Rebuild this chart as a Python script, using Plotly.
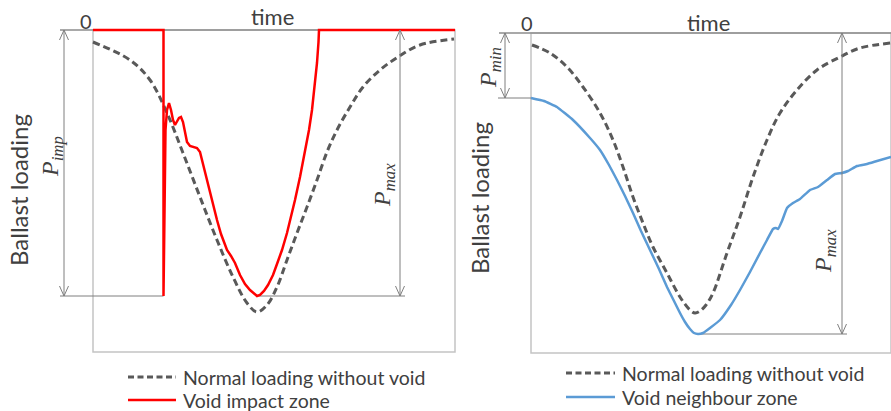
import plotly.graph_objects as go

# ---------------- data (arbitrary units) ----------------
# left panel: time axis 0..362, loading axis 0 (top) .. 322 (bottom)
left_dash_t = [0, 37, 57, 74, 90, 107, 124, 140, 154, 164, 174, 184, 194, 204, 214, 224, 234, 244, 257, 270, 287, 305, 327, 361]
left_dash_L = [12, 30, 50, 83, 123, 167, 210, 247, 273, 282, 275, 257, 230, 203, 177, 150, 122, 100, 77, 57, 40, 27, 15, 9]

left_red_t = [0, 70.5, 70.5, 72.5, 74, 76, 78, 80, 82, 84, 86, 88, 90, 92, 94, 97, 100, 104, 107, 109,
              111, 114, 117, 120, 124, 128, 131, 134, 138, 142, 147, 152, 157, 161, 164, 167, 171, 175, 180, 184,
              189, 194, 198, 202, 207, 212, 216, 219, 222, 224, 225.5, 226, 362]
left_red_L = [0, 0, 266, 100, 80, 73, 80, 90, 95, 91, 88, 87, 92, 102, 112, 116, 117, 118, 122, 130,
              140, 153, 164, 176, 190, 204, 212, 220, 226, 233, 245, 254, 260, 264, 266, 265, 261, 255, 245, 234,
              220, 203, 187, 170, 147, 122, 100, 80, 55, 33, 12, 0, 0]

# right panel: time axis 0..360, loading axis 0 (top) .. 320 (bottom)
right_dash_t = [1, 19, 36, 52, 69, 82, 92, 102, 112, 122, 136, 149, 159, 164, 169, 175, 182, 196, 209, 222, 236, 249, 266, 286, 309, 329, 360]
right_dash_L = [12, 20, 34, 54, 80, 107, 134, 164, 190, 214, 240, 264, 277, 280, 278, 272, 260, 220, 184, 144, 107, 80, 57, 37, 24, 15, 10]

right_blue_t = [0, 13, 26, 42, 59, 69, 78, 86, 94, 102, 110, 119, 128, 136, 143, 149, 154, 159, 163, 167,
                172, 179, 189, 200, 209, 219, 229, 236, 242, 245, 247, 251, 256, 262, 269, 279, 287, 296, 304, 311,
                317, 326, 336, 346, 360]
right_blue_L = [65, 68, 74, 87, 105, 117, 132, 147, 163, 180, 198, 217, 236, 254, 268, 280, 289, 296, 300, 301,
                300, 295, 287, 272, 257, 239, 220, 207, 196, 195, 196, 188, 175, 170, 166, 157, 154, 147, 141, 140,
                138, 133, 131, 128, 124]

legend_names_left = ["Normal loading without void", "Void impact zone"]
legend_names_right = ["Normal loading without void", "Void neighbour zone"]

# ---------------- styles ----------------
W, H = 891, 411
DASH_C = "#595959"
DASH = "7px,4px"
RED = "#ff0000"
BLUE = "#5b9bd5"
BOX_C = "#c4c4c4"
TOP_C = "#8c8c8c"
MEAS_C = "#7f7f7f"
TXT_C = "#404040"
SANS = "Lato, 'Open Sans', sans-serif"
SERIF = "'Liberation Serif', 'DejaVu Serif', serif"

fig = go.Figure()

fig.add_trace(go.Scatter(x=left_dash_t, y=left_dash_L, mode="lines", line=dict(color=DASH_C, width=3, dash=DASH),
                         line_shape="spline", name=legend_names_left[0], showlegend=False, xaxis="x", yaxis="y"))
fig.add_trace(go.Scatter(x=left_red_t, y=left_red_L, mode="lines", line=dict(color=RED, width=2.5),
                         name=legend_names_left[1], showlegend=False, xaxis="x", yaxis="y"))
fig.add_trace(go.Scatter(x=right_dash_t, y=right_dash_L, mode="lines", line=dict(color=DASH_C, width=3, dash=DASH),
                         line_shape="spline", name=legend_names_right[0], showlegend=False, xaxis="x2", yaxis="y2"))
fig.add_trace(go.Scatter(x=right_blue_t, y=right_blue_L, mode="lines", line=dict(color=BLUE, width=2.5),
                         line_shape="spline", line_smoothing=0.3,
                         name=legend_names_right[1], showlegend=False, xaxis="x2", yaxis="y2"))

# axes: 1 unit = 1 pixel, zero at the plot box corner
ax_common = dict(visible=False, showgrid=False, zeroline=False, fixedrange=True)
fig.update_layout(
    xaxis=dict(domain=[0, 460 / W], range=[-93, 367], **ax_common),
    yaxis=dict(domain=[0, 1], range=[381, -30], **ax_common),
    xaxis2=dict(domain=[465 / W, 1], range=[-66, 360], **ax_common),
    yaxis2=dict(domain=[0, 1], range=[378, -33], anchor="x2", **ax_common),
)

shapes = []
ann = []


def box(xr, yr, w, h, top_start):
    shapes.append(dict(type="rect", xref=xr, yref=yr, x0=0, x1=w, y0=0, y1=h,
                       line=dict(color=BOX_C, width=1.5), layer="below"))
    shapes.append(dict(type="line", xref=xr, yref=yr, x0=top_start, x1=w, y0=0, y1=0,
                       line=dict(color=TOP_C, width=1.5), layer="below"))


def hline(xr, yr, x0, x1, y):
    shapes.append(dict(type="line", xref=xr, yref=yr, x0=x0, x1=x1, y0=y, y1=y,
                       line=dict(color=MEAS_C, width=1), layer="below"))


def darrow(xr, yr, x, y0, y1):
    # vertical dimension line with open chevrons at both ends (1 unit = 1 px)
    shapes.append(dict(type="line", xref=xr, yref=yr, x0=x, x1=x, y0=y0, y1=y1,
                       line=dict(color=MEAS_C, width=1)))
    hw, hl = 4.5, 10
    shapes.append(dict(type="path", xref=xr, yref=yr,
                       path=f"M{x - hw},{y0 + hl} L{x},{y0} L{x + hw},{y0 + hl}",
                       line=dict(color=MEAS_C, width=1)))
    shapes.append(dict(type="path", xref=xr, yref=yr,
                       path=f"M{x - hw},{y1 - hl} L{x},{y1} L{x + hw},{y1 - hl}",
                       line=dict(color=MEAS_C, width=1)))


def label(xr, yr, x, y, text, size, font, angle=0, xanchor="center"):
    ann.append(dict(xref=xr, yref=yr, x=x, y=y, text=text, showarrow=False, textangle=angle,
                    font=dict(size=size, family=font, color=TXT_C), xanchor=xanchor, yanchor="middle"))


def legend_row(px0, px1, py, text, color, dash):
    shapes.append(dict(type="line", xref="paper", yref="paper", x0=px0 / W, x1=px1 / W,
                       y0=1 - py / H, y1=1 - py / H, line=dict(color=color, width=3 if dash else 2.5, dash=dash)))
    ann.append(dict(xref="paper", yref="paper", x=(px1 + 5) / W, y=1 - py / H, text=text, showarrow=False,
                    font=dict(size=19.5, family=SANS, color=TXT_C), xanchor="left", yanchor="middle"))


# ---- left panel decorations
p_imp = max(left_red_L)
box("x", "y", 362, 322, -33)
hline("x", "y", -33, left_red_t[1], p_imp)
hline("x", "y", left_red_t[left_red_L.index(p_imp, 3)], 312, p_imp)
darrow("x", "y", -29, 0, p_imp)
darrow("x", "y", 307, 0, p_imp)
label("x", "y", -7, -9, "0", 20, SANS)
label("x", "y", 179, -14, "time", 22, SANS)
label("x", "y", -75, 160, "Ballast loading", 24, SANS, -90)
label("x", "y", -41, 127, "<i>P<sub>imp</sub></i>", 24, SERIF, -90)
label("x", "y", 291, 155, "<i>P<sub>max</sub></i>", 24, SERIF, -90)
legend_row(128, 176, 377, legend_names_left[0], DASH_C, "6px,3.5px")
legend_row(128, 176, 400, legend_names_left[1], RED, None)

# ---- right panel decorations
p_min = right_blue_L[0]
p_max = max(right_blue_L)
box("x2", "y2", 360, 320, -32)
hline("x2", "y2", -33, 0, p_min)
hline("x2", "y2", right_blue_t[right_blue_L.index(p_max)], 316, p_max)
darrow("x2", "y2", -26, 0, p_min)
darrow("x2", "y2", 311, 0, p_max)
label("x2", "y2", -4, -10, "0", 20, SANS)
label("x2", "y2", 177, -11, "time", 22, SANS)
label("x2", "y2", -52, 165, "Ballast loading", 24, SANS, -90)
label("x2", "y2", -41, 34, "<i>P<sub>min</sub></i>", 24, SERIF, -90)
label("x2", "y2", 294, 218, "<i>P<sub>max</sub></i>", 24, SERIF, -90)
legend_row(566, 615, 373, legend_names_right[0], DASH_C, "6px,3.5px")
legend_row(566, 615, 397, legend_names_right[1], BLUE, None)

fig.update_layout(
    width=W, height=H,
    margin=dict(l=0, r=0, t=0, b=0, pad=0),
    paper_bgcolor="white", plot_bgcolor="white",
    shapes=shapes, annotations=ann,
    showlegend=False,
)

fig.write_html("out.html")
